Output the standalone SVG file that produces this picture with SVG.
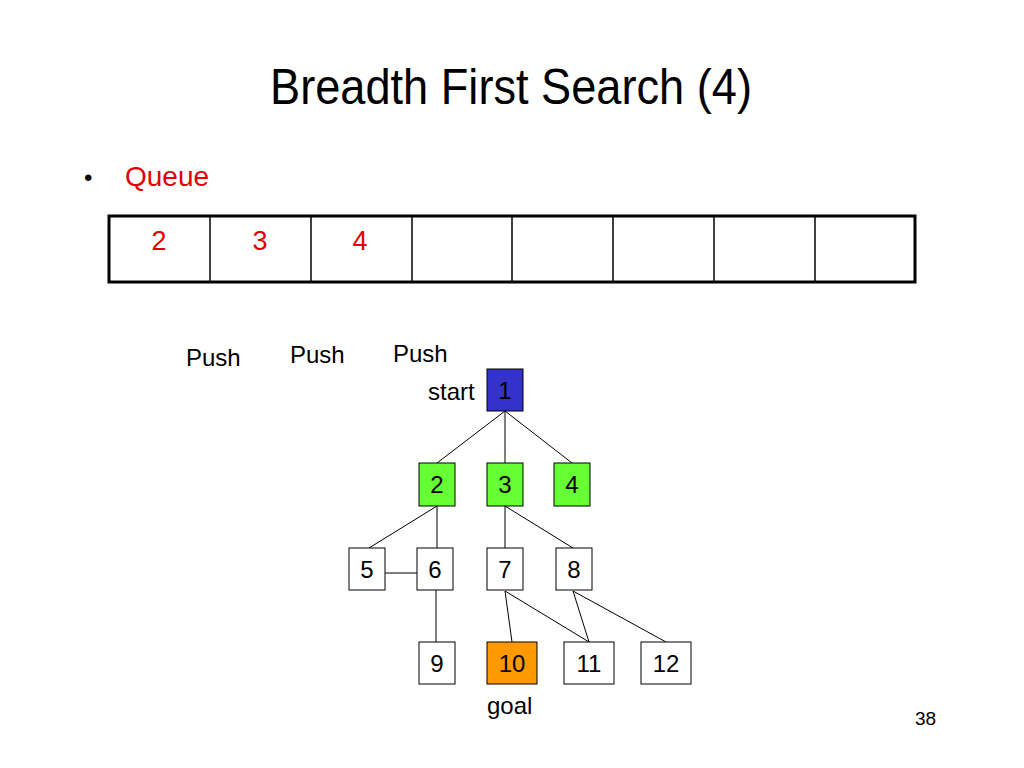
<svg xmlns="http://www.w3.org/2000/svg" width="1024" height="768" viewBox="0 0 1024 768">
<style>
text{font-family:"Liberation Sans",Arial,sans-serif;fill:#000}
.node rect{stroke:#000;stroke-width:1}
.node text{font-size:24px;text-anchor:middle}
.q{fill:#e00000;font-size:27px;text-anchor:middle}
.lbl{font-size:24px}
#connectors line{stroke:#000;stroke-width:1}
.cell{stroke:#000;stroke-width:1.5}
</style>
<rect width="1024" height="768" fill="#fff"/>
<text x="511" y="104" font-size="50" text-anchor="middle" textLength="482" lengthAdjust="spacingAndGlyphs">Breadth First Search (4)</text>
<text x="84" y="186" font-size="24">•</text>
<text x="125" y="186" font-size="28" style="fill:#e00000">Queue</text>
<g id="queue">
<rect x="109" y="216" width="806" height="66" fill="#fff" stroke="#000" stroke-width="3"/>
<line class="cell" x1="210" y1="216" x2="210" y2="282"/>
<line class="cell" x1="311" y1="216" x2="311" y2="282"/>
<line class="cell" x1="412" y1="216" x2="412" y2="282"/>
<line class="cell" x1="512" y1="216" x2="512" y2="282"/>
<line class="cell" x1="613" y1="216" x2="613" y2="282"/>
<line class="cell" x1="714" y1="216" x2="714" y2="282"/>
<line class="cell" x1="815" y1="216" x2="815" y2="282"/>
<text class="q" x="159" y="250">2</text>
<text class="q" x="260" y="250">3</text>
<text class="q" x="360" y="250">4</text>
</g>
<text class="lbl" x="186" y="366">Push</text>
<text class="lbl" x="290" y="363">Push</text>
<text class="lbl" x="393" y="362">Push</text>
<text class="lbl" x="428" y="400">start</text>
<text class="lbl" x="487" y="714">goal</text>
<text x="915" y="725" font-size="19">38</text>
<g id="connectors">
<line x1="505" y1="411" x2="437" y2="463"/>
<line x1="505" y1="411" x2="505" y2="463"/>
<line x1="505" y1="411" x2="572" y2="463"/>
<line x1="437" y1="506" x2="369" y2="548"/>
<line x1="437" y1="506" x2="437" y2="548"/>
<line x1="505" y1="506" x2="505" y2="548"/>
<line x1="505" y1="506" x2="573" y2="548"/>
<line x1="385" y1="573" x2="417" y2="573"/>
<line x1="436" y1="590" x2="436" y2="642"/>
<line x1="505" y1="591" x2="512" y2="642"/>
<line x1="505" y1="591" x2="589" y2="642"/>
<line x1="573" y1="591" x2="589" y2="642"/>
<line x1="573" y1="591" x2="666" y2="642"/>
</g>
<g id="n1" class="node"><rect x="487" y="369" width="36" height="42" fill="#3333cc"/><text x="505" y="399">1</text></g>
<g id="n2" class="node"><rect x="419" y="463" width="36" height="43" fill="#66ff33"/><text x="437" y="493">2</text></g>
<g id="n3" class="node"><rect x="487" y="463" width="36" height="43" fill="#66ff33"/><text x="505" y="493">3</text></g>
<g id="n4" class="node"><rect x="554" y="463" width="36" height="43" fill="#66ff33"/><text x="572" y="493">4</text></g>
<g id="n5" class="node"><rect x="349" y="548" width="36" height="42" fill="#fff"/><text x="367" y="578">5</text></g>
<g id="n6" class="node"><rect x="417" y="548" width="36" height="42" fill="#fff"/><text x="435" y="578">6</text></g>
<g id="n7" class="node"><rect x="487" y="548" width="36" height="42" fill="#fff"/><text x="505" y="578">7</text></g>
<g id="n8" class="node"><rect x="556" y="548" width="36" height="42" fill="#fff"/><text x="574" y="578">8</text></g>
<g id="n9" class="node"><rect x="419" y="642" width="36" height="42" fill="#fff"/><text x="437" y="672">9</text></g>
<g id="n10" class="node"><rect x="487" y="642" width="50" height="42" fill="#ff9900"/><text x="512" y="672">10</text></g>
<g id="n11" class="node"><rect x="564" y="642" width="50" height="42" fill="#fff"/><text x="589" y="672">11</text></g>
<g id="n12" class="node"><rect x="641" y="642" width="50" height="42" fill="#fff"/><text x="666" y="672">12</text></g>
</svg>
